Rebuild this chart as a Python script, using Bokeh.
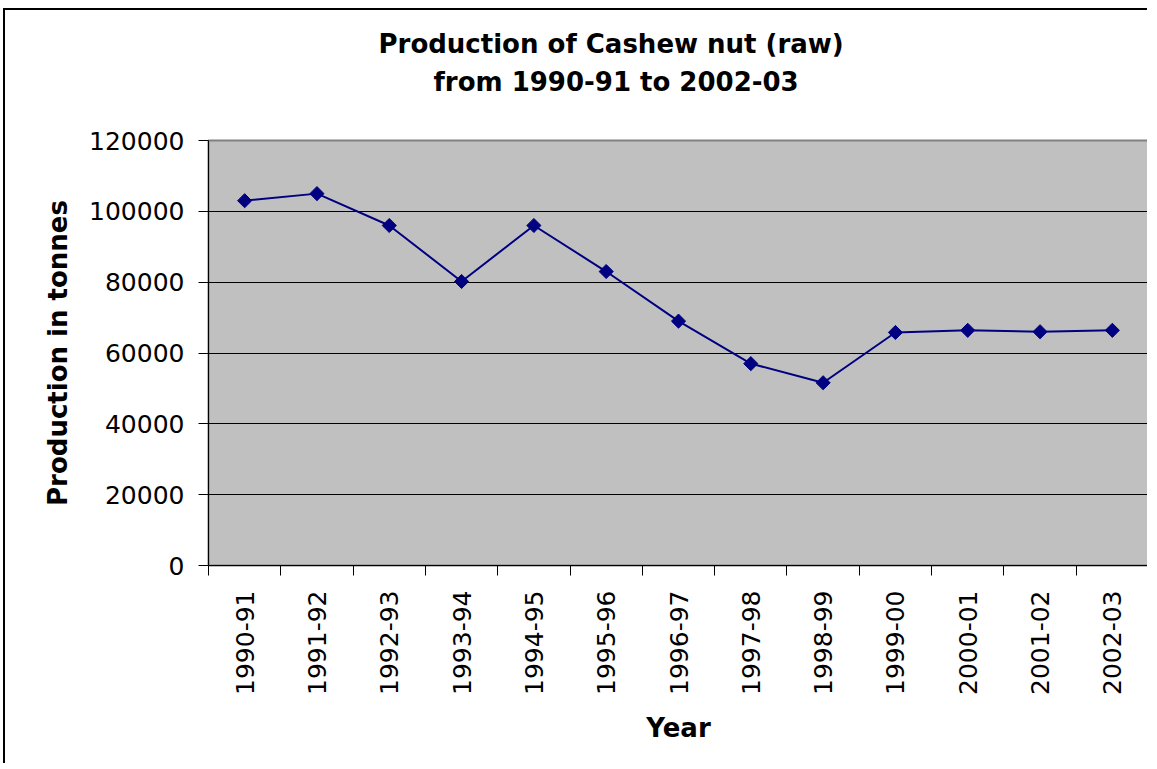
import math
from bokeh.plotting import figure
from bokeh.models import (FixedTicker, LinearAxis, Title, Range1d, NumeralTickFormatter)
from bokeh.embed import file_html
from bokeh.resources import INLINE

# ---- data ----
years = ["1990-91", "1991-92", "1992-93", "1993-94", "1994-95", "1995-96", "1996-97",
         "1997-98", "1998-99", "1999-00", "2000-01", "2001-02", "2002-03"]
production = [103000, 105000, 96000, 80200, 96000, 83000, 69000,
              57000, 51600, 65800, 66400, 66000, 66400]
y_ticks = [0, 20000, 40000, 60000, 80000, 100000, 120000]
y_grid = [20000, 40000, 60000, 80000, 100000]
title_line1 = "Production of Cashew nut (raw)"
title_line2 = "from 1990-91 to 2002-03"
y_label = "Production in tonnes"
x_label = "Year"

FONT = "DejaVu Sans"
NAVY = "#000080"

n = len(years)
x_pos = [i + 0.5 for i in range(n)]          # category centres
x_edges = list(range(n + 1))                 # category boundaries

p = figure(width=1144, height=755, output_backend="svg", toolbar_location=None,
           x_range=Range1d(0, n), y_range=Range1d(0, y_ticks[-1]),
           min_border_left=203, min_border_right=1, min_border_top=130,
           min_border_bottom=200)

p.background_fill_color = "#C0C0C0"
p.border_fill_color = "white"
p.outline_line_color = "#808080"
p.outline_line_width = 2
p.styles = {"border-left": "2px solid #000", "border-top": "2px solid #000",
            "margin-left": "3px", "margin-top": "8px"}

# ---- titles (stacked outward from the frame) ----
p.add_layout(Title(text=" ", text_font_size="10px", standoff=23), "above")
p.add_layout(Title(text=title_line2, text_font=FONT, text_font_size="26px",
                   text_font_style="bold", align="left", offset=225,
                   vertical_align="top", standoff=12.4, text_color="black"), "above")
p.add_layout(Title(text=title_line1, text_font=FONT, text_font_size="26px",
                   text_font_style="bold", align="left", offset=170,
                   vertical_align="bottom", standoff=4, text_color="black"), "above")
p.add_layout(Title(text=" ", text_font_size="2px", standoff=8), "above")

# ---- y axis ----
ya = p.yaxis[0]
ya.ticker = FixedTicker(ticks=y_ticks)
ya.formatter = NumeralTickFormatter(format="0")
ya.major_tick_out = 10
ya.major_tick_in = 0
ya.minor_tick_out = 0
ya.minor_tick_in = 0
ya.major_tick_line_color = "black"
ya.axis_line_color = "black"
ya.major_label_text_font = FONT
ya.major_label_text_font_size = "25px"
ya.major_label_text_color = "black"
ya.major_label_standoff = 14
ya.axis_label = y_label
ya.axis_label_text_font = FONT
ya.axis_label_text_font_size = "26px"
ya.axis_label_text_font_style = "bold"
ya.axis_label_text_color = "black"
ya.axis_label_standoff = 13

# ---- x axis: ticks at category boundaries ----
xa = p.xaxis[0]
xa.ticker = FixedTicker(ticks=x_edges)
xa.major_label_overrides = {e: "" for e in x_edges}
xa.major_label_text_font_size = "0px"
xa.major_label_standoff = 0
xa.major_tick_out = 10
xa.major_tick_in = 0
xa.minor_tick_out = 0
xa.minor_tick_in = 0
xa.major_tick_line_color = "black"
xa.axis_line_color = "black"

# ---- x axis: category labels at centres ----
ca = LinearAxis(ticker=FixedTicker(ticks=x_pos),
                major_label_overrides=dict(zip(x_pos, years)))
ca.axis_line_color = None
ca.major_tick_line_color = None
ca.major_tick_out = 0
ca.major_tick_in = 0
ca.minor_tick_out = 0
ca.minor_tick_in = 0
ca.major_label_orientation = math.pi / 2
ca.major_label_text_font = FONT
ca.major_label_text_font_size = "25px"
ca.major_label_text_color = "black"
ca.major_label_standoff = 15
ca.axis_label = x_label
ca.axis_label_text_font = FONT
ca.axis_label_text_font_size = "26px"
ca.axis_label_text_font_style = "bold"
ca.axis_label_text_color = "black"
ca.axis_label_standoff = 15
p.add_layout(ca, "below")

# ---- grid ----
p.xgrid.visible = False
p.ygrid.ticker = FixedTicker(ticks=y_grid)
p.ygrid.grid_line_color = "black"
p.ygrid.grid_line_width = 1

# ---- data ----
p.line(x=x_pos, y=production, line_color=NAVY, line_width=2)
p.scatter(x=x_pos, y=production, marker="square", angle=0.785398,
          size=10, fill_color=NAVY, line_color=NAVY)

open("out.html", "w").write(file_html(p, INLINE))
